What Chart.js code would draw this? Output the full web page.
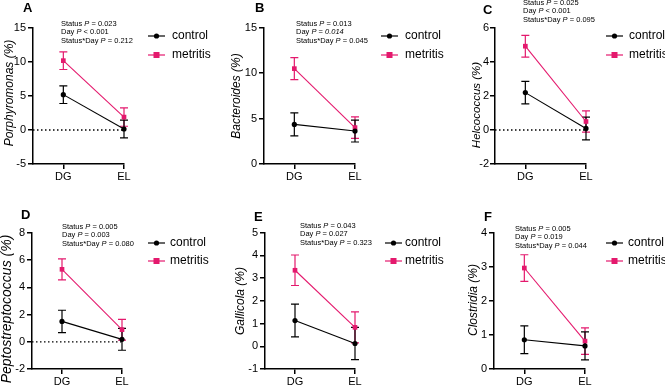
<!DOCTYPE html>
<html>
<head>
<meta charset="utf-8">
<script src="https://cdn.jsdelivr.net/npm/chart.js@4.4.0/dist/chart.umd.min.js"></script>
<style>
  body { margin: 0; background: #fff; }
  #wrap { position: relative; width: 665px; height: 386px; overflow: hidden; font-family: "Liberation Sans", Arial, sans-serif; color: #000; }
  canvas { position: absolute; }
  .letter { position: absolute; font-weight: bold; font-size: 13px; line-height: 13px; }
  .ptext { position: absolute; font-size: 7.5px; line-height: 8.5px; white-space: nowrap; }
  .ytitle { position: absolute; font-style: italic; line-height: 1; white-space: nowrap; transform: translate(-50%, -50%) rotate(-90deg); }
</style>
</head>
<body>
<div id="wrap"></div>
<script>
// data
const days = ['DG', 'EL'];
const groups = ['control', 'metritis'];
const letters = ['A', 'B', 'C', 'D', 'E', 'F'];
const genera = ['Porphyromonas', 'Bacteroides', 'Helcococcus', 'Peptostreptococcus', 'Gallicola', 'Clostridia'];

const controlMeans = [[5.2, 0.15], [4.35, 3.62], [2.2, 0.09], [1.5, 0.18], [1.13, 0.12], [0.86, 0.68]];
const controlErr = [[1.3, 1.3], [1.27, 1.2], [0.66, 0.67], [0.82, 0.8], [0.72, 0.71], [0.41, 0.41]];
const metritisMeans = [[10.2, 1.9], [10.48, 4.0], [4.93, 0.5], [5.33, 0.89], [3.34, 0.83], [2.97, 0.82]];
const metritisErr = [[1.3, 1.35], [1.2, 1.18], [0.64, 0.62], [0.77, 0.76], [0.67, 0.68], [0.39, 0.39]];

const yMin = [-5, 0, -2, -2, -1, 0];
const yMax = [15, 15, 6, 8, 5, 4];
const yStep = [5, 5, 2, 2, 1, 1];
const zeroLine = [true, false, true, true, false, false];

const pStatus = ['0.023', '0.013', '0.025', '0.005', '0.043', '0.005'];
const pDayRel = ['<', '=', '<', '=', '=', '='];
const pDay = ['0.001', '0.014', '0.001', '0.003', '0.027', '0.019'];
const pDayItalic = [false, true, false, false, false, false];
const pInter = ['0.212', '0.045', '0.095', '0.080', '0.323', '0.044'];

// layout (page pixels)
const boxes = [
  { cx: 0, ax: 33, el: 124, top: 28, bottom: 164, row: 0, right: 222 },
  { cx: 222, ax: 264, el: 355, top: 27.5, bottom: 164, row: 0, right: 444 },
  { cx: 444, ax: 495, el: 586, top: 28, bottom: 164, row: 0, right: 665 },
  { cx: 0, ax: 32, el: 122, top: 233, bottom: 369, row: 193, right: 222 },
  { cx: 222, ax: 265, el: 355, top: 232.5, bottom: 369, row: 193, right: 444 },
  { cx: 444, ax: 494, el: 585, top: 233, bottom: 369, row: 193, right: 665 }
];
const titlePos = [[9, 93, 12], [236, 96, 12], [477, 105, 11.5], [6, 309, 14], [240, 301, 12], [473, 300, 12]];
const legendPos = [[148, 172, 36, 55], [381, 405, 36, 55], [606, 629, 36, 55], [148, 170, 243, 261], [385, 405, 243, 261], [606, 628, 243, 261]];
const ptextPos = [[61, 19.75], [296, 19.75], [523, -1.5], [62, 222.5], [300, 221.5], [515, 224.5]];
const letterPos = [[23, 1.3], [255, 1.3], [483, 3.3], [21, 208.3], [254, 209.8], [484, 209.8]];

const colors = ['#000000', '#E4196D'];
const font = '"Liberation Sans", Arial, sans-serif';

// error bars + dotted zero line
const errorBars = {
  id: 'errorBars',
  beforeDatasetsDraw(chart, args, opts) {
    const { ctx, scales: { x, y }, chartArea } = chart;
    ctx.save();
    if (opts.zero) {
      ctx.strokeStyle = '#000';
      ctx.lineWidth = 1.3;
      ctx.setLineDash([1.5, 2.5]);
      ctx.beginPath();
      ctx.moveTo(chartArea.left, y.getPixelForValue(0));
      ctx.lineTo(x.getPixelForValue(1), y.getPixelForValue(0));
      ctx.stroke();
      ctx.setLineDash([]);
    }
    chart.data.datasets.slice().reverse().forEach(ds => {
      ctx.strokeStyle = ds.borderColor;
      ctx.lineWidth = 1.2;
      ds.data.forEach((pt, i) => {
        const px = x.getPixelForValue(pt.x);
        const t = y.getPixelForValue(pt.y + ds.errors[i]);
        const b = y.getPixelForValue(pt.y - ds.errors[i]);
        ctx.beginPath();
        ctx.moveTo(px, t); ctx.lineTo(px, b);
        ctx.moveTo(px - 4, t); ctx.lineTo(px + 4, t);
        ctx.moveTo(px - 4, b); ctx.lineTo(px + 4, b);
        ctx.stroke();
      });
    });
    ctx.restore();
  }
};

// legend on the right
const sideLegend = {
  id: 'sideLegend',
  afterDraw(chart, args, opts) {
    const { ctx } = chart;
    ctx.save();
    chart.data.datasets.forEach((ds, i) => {
      const y = opts.ys[i];
      ctx.strokeStyle = ds.borderColor;
      ctx.fillStyle = ds.borderColor;
      ctx.lineWidth = 1.2;
      ctx.beginPath();
      ctx.moveTo(opts.mx, y); ctx.lineTo(opts.mx + 17, y);
      ctx.stroke();
      const c = opts.mx + 8.5;
      if (ds.pointStyle === 'rect') {
        ctx.fillRect(c - 3, y - 3, 6, 6);
      } else {
        ctx.beginPath(); ctx.arc(c, y, 2.6, 0, Math.PI * 2); ctx.fill();
      }
      ctx.fillStyle = '#000';
      ctx.font = '12px ' + font;
      ctx.textBaseline = 'middle';
      ctx.fillText(ds.label, opts.tx, y);
    });
    ctx.restore();
  }
};

const wrap = document.getElementById('wrap');

letters.forEach((letter, p) => {
  const b = boxes[p];
  const cw = b.right - b.cx;
  const ch = 193;
  const canvas = document.createElement('canvas');
  canvas.width = cw;
  canvas.height = ch;
  canvas.style.left = b.cx + 'px';
  canvas.style.top = b.row + 'px';
  wrap.appendChild(canvas);

  const yw = b.ax - b.cx;
  const xh = 25;
  const lg = legendPos[p];

  const means = [controlMeans[p], metritisMeans[p]];
  const errs = [controlErr[p], metritisErr[p]];

  new Chart(canvas, {
    type: 'line',
    data: {
      datasets: groups.map((g, gi) => ({
        label: g,
        data: days.map((d, i) => ({ x: i, y: means[gi][i] })),
        errors: errs[gi],
        borderColor: colors[gi],
        backgroundColor: colors[gi],
        pointStyle: gi === 0 ? 'circle' : 'rect',
        pointRadius: gi === 0 ? 2.6 : 3.3,
        pointBorderWidth: 0,
        borderWidth: 1.1,
        clip: false
      }))
    },
    options: {
      responsive: false,
      animation: false,
      events: [],
      layout: {
        padding: {
          left: 0,
          top: b.top - b.row,
          right: cw - (b.el - b.cx),
          bottom: ch - xh - (b.bottom - b.row)
        }
      },
      plugins: {
        legend: { display: false },
        tooltip: { enabled: false },
        errorBars: { zero: zeroLine[p] },
        sideLegend: { mx: lg[0] - b.cx, tx: lg[1] - b.cx, ys: [lg[2] - b.row, lg[3] - b.row] }
      },
      scales: {
        x: {
          type: 'linear',
          min: -0.5,
          max: 1,
          afterBuildTicks: s => { s.ticks = days.map((d, i) => ({ value: i })); },
          afterFit: s => { s.height = xh; },
          ticks: {
            color: '#000',
            font: { family: font, size: 11 },
            padding: 1,
            maxRotation: 0,
            callback: v => days[v]
          },
          grid: { display: true, drawOnChartArea: false, drawTicks: true, tickLength: 5, color: '#000', lineWidth: 1.5 },
          border: { display: true, color: '#000', width: 1.5 }
        },
        y: {
          min: yMin[p],
          max: yMax[p],
          afterFit: s => { s.width = yw; },
          ticks: {
            stepSize: yStep[p],
            color: '#000',
            font: { family: font, size: 11 },
            padding: p === 2 ? 1 : 2
          },
          grid: { display: true, drawOnChartArea: false, drawTicks: true, tickLength: 5, color: '#000', lineWidth: 1.5 },
          border: { display: true, color: '#000', width: 1.5 }
        }
      }
    },
    plugins: [errorBars, sideLegend]
  });

  const yt = document.createElement('div');
  yt.className = 'ytitle';
  yt.textContent = genera[p] + ' (%)';
  yt.style.left = titlePos[p][0] + 'px';
  yt.style.top = titlePos[p][1] + 'px';
  yt.style.fontSize = titlePos[p][2] + 'px';
  wrap.appendChild(yt);

  const l = document.createElement('div');
  l.className = 'letter';
  l.textContent = letter;
  l.style.left = letterPos[p][0] + 'px';
  l.style.top = letterPos[p][1] + 'px';
  wrap.appendChild(l);

  const t = document.createElement('div');
  t.className = 'ptext';
  t.style.left = ptextPos[p][0] + 'px';
  t.style.top = ptextPos[p][1] + 'px';
  const dayVal = pDayItalic[p] ? '<i>' + pDay[p] + '</i>' : pDay[p];
  t.innerHTML = 'Status <i>P</i> = ' + pStatus[p] + '<br>' +
    'Day <i>P</i> ' + pDayRel[p] + ' ' + dayVal + '<br>' +
    'Status*Day <i>P</i> = ' + pInter[p];
  wrap.appendChild(t);
});
</script>
</body>
</html>
